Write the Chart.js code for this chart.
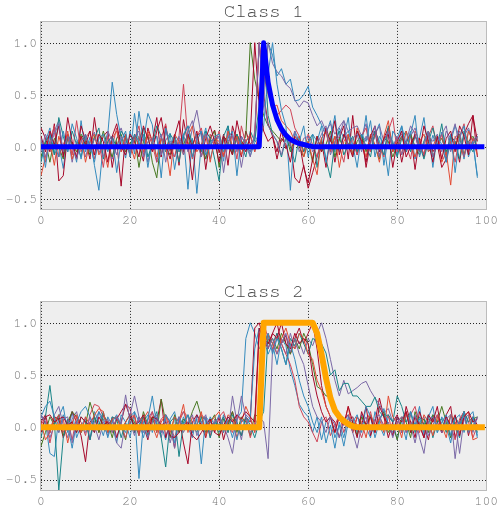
<!DOCTYPE html>
<html>
<head>
<meta charset="utf-8">
<script src="https://cdn.jsdelivr.net/npm/chart.js@4.4.1/dist/chart.umd.min.js"></script>
<style>
  html, body { margin: 0; padding: 0; background: #fff; }
  #wrap { position: relative; width: 501px; height: 509px; overflow: hidden; }
  canvas { position: absolute; left: 0; }
  #c1 { top: 0; }
  #c2 { top: 280px; }
</style>
</head>
<body>
<div id="wrap">
  <canvas id="c1" width="501" height="230"></canvas>
  <canvas id="c2" width="501" height="229"></canvas>
</div>
<script>
// ===== axes / ticks =====
const xTicks = [0, 20, 40, 60, 80, 100];
const yTicks = [-0.5, 0, 0.5, 1.0];
const palette = ['#348ABD', '#A60628', '#7A68A6', '#467821', '#CF4457', '#188487', '#E24A33', '#348ABD', '#A60628', '#7A68A6'];
const monoFont = "'Nimbus Mono PS', 'Nimbus Mono L', FreeMono, 'Courier New', Courier, 'Liberation Mono', monospace";

// ===== Class 1: template (thick blue) =====
const class1Template = [
  0, 0, 0, 0, 0, 0, 0, 0, 0, 0,
  0, 0, 0, 0, 0, 0, 0, 0, 0, 0,
  0, 0, 0, 0, 0, 0, 0, 0, 0, 0,
  0, 0, 0, 0, 0, 0, 0, 0, 0, 0,
  0, 0, 0, 0, 0, 0, 0, 0, 0, 0,
  1.0, 0.62, 0.4, 0.26, 0.17, 0.11, 0.07, 0.045, 0.03, 0.02,
  0.01, 0, 0, 0, 0, 0, 0, 0, 0, 0,
  0, 0, 0, 0, 0, 0, 0, 0, 0, 0,
  0, 0, 0, 0, 0, 0, 0, 0, 0, 0,
  0, 0, 0, 0, 0, 0, 0, 0, 0, 0
];

// ===== Class 1: samples =====
const c1a = [
  -0.12, 0.05, 0.18, -0.08, 0.02, -0.21, 0.11, 0.04, -0.15, 0.25,
  -0.05, 0.09, -0.18, -0.42, 0.03, 0.12, 0.62, 0.31, 0.08, -0.11,
  0.15, -0.07, 0.34, 0.05, 0.32, 0.21, -0.15, -0.08, 0.06, 0.13,
  -0.22, 0.04, 0.1, -0.41, 0.08, -0.45, 0.02, 0.18, -0.12, 0.05,
  0.09, -0.14, 0.2, -0.06, 0.11, -0.03, 0.07, -0.09, 0.04, 0.1,
  0.55, 1.0, 0.88, 0.68, 0.75, 0.6, 0.65, 0.44, 0.45, 0.5,
  0.58, 0.38, 0.3, 0.21, 0.12, 0.25, -0.05, 0.18, 0.08, 0.28,
  -0.1, 0.15, 0.02, 0.3, -0.05, 0.12, 0.22, -0.18, 0.1, 0.05,
  -0.08, 0.2, 0.02, 0.15, -0.12, 0.08, 0.28, -0.05, 0.11, -0.02,
  0.14, -0.15, 0.05, 0.2, 0.09, -0.12, 0.16, 0.04, -0.28
];
const c1b = [
  0.18, 0.08, -0.05, 0.22, -0.33, -0.28, 0.12, 0.02, -0.1, 0.2,
  0.06, -0.12, 0.28, -0.02, 0.1, 0.15, -0.2, 0.05, -0.38, 0.12,
  -0.08, 0.1, 0.02, -0.14, 0.18, 0.05, 0.28, -0.1, 0.2, -0.04,
  0.12, -0.18, 0.26, 0.02, -0.32, 0.1, 0.14, -0.22, 0.08, 0.16,
  -0.06, 0.12, -0.18, 0.2, 0.05, -0.1, 0.15, 0.02, 0.08, 1.0,
  0.5, 0.22, 0.1, -0.05, 0.15, -0.02, 0.05, -0.3, -0.35, -0.18,
  -0.4, -0.25, -0.1, 0.05, -0.2, 0.1, -0.15, 0.08, 0.2, -0.12,
  0.3, -0.08, 0.12, -0.2, 0.05, 0.15, -0.1, 0.08, 0.18, -0.05,
  0.1, -0.15, 0.05, 0.12, -0.22, 0.08, -0.1, 0.15, -0.05, 0.02,
  -0.2, -0.12, 0.1, 0.05, -0.15, 0.12, 0.22, 0.3, -0.1
];
const c1c = [
  -0.05, 0.12, 0.02, 0.15, 0.25, -0.08, 0.1, -0.15, 0.05, 0.08,
  -0.1, 0.05, 0.14, -0.06, 0.02, 0.1, -0.12, 0.08, 0.18, 0.03,
  -0.05, 0.12, 0.0, 0.08, -0.15, 0.06, 0.1, -0.08, 0.15, 0.02,
  -0.1, 0.05, 0.12, -0.05, 0.18, 0.35, 0.1, -0.12, 0.05, 0.08,
  0.02, -0.1, 0.12, -0.05, 0.08, -0.2, 0.05, 0.1, -0.05, 0.08,
  0.4, 1.0, 0.8, 0.72, 0.68, 0.6, 0.56, 0.45, 0.38, 0.44,
  0.42, 0.3, 0.2, 0.25, 0.15, 0.22, 0.12, 0.19, 0.25, 0.15,
  0.18, 0.2, 0.1, 0.22, -0.05, 0.12, 0.2, 0.05, 0.15, -0.02,
  0.08, 0.12, -0.05, 0.1, 0.18, 0.02, -0.08, 0.1, 0.05, 0.12,
  -0.05, 0.15, 0.08, 0.22, -0.02, 0.1, 0.18, 0.05, 0.12
];
const c1d = [
  -0.1, 0.05, -0.15, 0.08, 0.0, -0.12, 0.1, 0.02, -0.05, 0.12,
  0.05, -0.08, 0.1, -0.02, 0.15, 0.0, -0.1, 0.08, 0.12, -0.05,
  0.02, 0.1, -0.2, 0.05, 0.12, -0.15, -0.3, 0.08, 0.0, -0.08,
  0.1, -0.05, 0.02, 0.12, -0.1, 0.05, 0.0, -0.12, 0.08, 0.15,
  -0.2, 0.1, 0.05, -0.08, 0.12, 0.02, 0.1, 1.0, 0.65, 0.45,
  0.3, 0.2, 0.15, 0.1, 0.05, 0.12, -0.05, 0.08, 0.0, -0.1,
  0.05, -0.15, 0.1, -0.05, 0.02, 0.15, -0.1, 0.08, -0.02, 0.1,
  -0.08, 0.05, 0.12, -0.05, 0.1, 0.0, -0.12, 0.08, 0.05, -0.1,
  0.02, 0.1, -0.05, 0.12, 0.0, -0.08, 0.05, 0.15, -0.1, 0.02,
  0.08, -0.05, 0.1, 0.0, 0.12, -0.08, 0.05, 0.1, -0.02
];
const c1e = [
  0.1, -0.15, 0.05, 0.2, -0.1, 0.02, 0.12, -0.08, 0.25, -0.05,
  0.08, 0.15, -0.12, 0.05, -0.2, 0.1, 0.0, 0.18, -0.05, 0.12,
  -0.1, 0.05, 0.2, -0.08, 0.12, 0.02, -0.15, 0.08, 0.22, -0.05,
  -0.1, 0.1, 0.6, 0.05, -0.12, 0.1, 0.18, -0.05, 0.12, 0.0,
  0.15, -0.08, 0.05, 0.1, -0.12, 0.2, 0.02, -0.05, 0.1, 1.0,
  0.7, 0.5, 0.38, 0.3, 0.35, 0.4, 0.36, 0.18, 0.1, -0.05,
  0.12, 0.02, -0.1, 0.08, 0.15, -0.05, 0.1, 0.0, -0.15, 0.12,
  0.05, -0.08, 0.1, 0.18, -0.05, 0.12, 0.02, -0.1, 0.15, 0.28,
  -0.05, 0.1, 0.02, -0.12, 0.15, 0.05, -0.08, 0.1, 0.2, -0.02,
  0.12, -0.1, 0.05, -0.15, 0.1, 0.22, -0.05, 0.08, 0.0
];
const c1f = [
  -0.15, 0.05, 0.12, -0.08, 0.28, 0.1, -0.05, 0.15, 0.02, -0.1,
  0.12, -0.05, 0.08, 0.18, -0.12, 0.05, 0.1, -0.02, 0.15, 0.08,
  -0.08, 0.12, 0.05, 0.18, -0.1, 0.02, 0.2, 0.1, -0.05, 0.12,
  0.05, -0.15, 0.1, 0.2, 0.02, 0.12, -0.05, 0.15, 0.08, -0.12,
  -0.33, 0.1, 0.2, -0.05, 0.12, 0.02, -0.1, 0.15, 0.05, 0.4,
  1.0, 0.3, 0.12, 0.05, -0.1, 0.08, 0.0, -0.15, 0.1, -0.05,
  0.05, 0.12, -0.2, 0.08, -0.12, -0.3, 0.05, 0.15, -0.08, 0.02,
  0.1, -0.05, 0.12, 0.0, -0.1, 0.15, 0.05, -0.08, 0.2, 0.02,
  -0.1, 0.08, 0.15, -0.05, 0.1, 0.02, -0.12, 0.05, 0.18, 0.0,
  0.22, -0.08, 0.1, 0.05, -0.12, 0.15, 0.02, -0.05, 0.1
];
const c1g = [
  -0.28, -0.1, 0.05, -0.18, 0.1, -0.05, 0.15, -0.12, 0.02, 0.1,
  -0.15, 0.05, 0.12, -0.08, 0.0, -0.2, 0.08, 0.15, -0.05, 0.1,
  0.02, -0.12, 0.1, -0.05, 0.15, 0.05, -0.1, 0.08, 0.0, -0.28,
  0.12, 0.05, -0.08, 0.1, 0.2, -0.05, 0.02, 0.12, -0.15, 0.08,
  0.05, -0.1, 0.15, 0.0, 0.1, -0.08, 0.05, 0.12, -0.05, 0.15,
  1.0, 0.55, 0.38, 0.4, 0.25, 0.2, 0.15, 0.05, 0.1, -0.1,
  0.05, -0.12, -0.27, 0.08, 0.15, -0.05, 0.1, -0.2, 0.05, 0.12,
  -0.08, 0.18, 0.05, -0.1, 0.12, 0.02, -0.15, 0.1, 0.25, -0.05,
  0.1, -0.08, 0.15, 0.02, -0.1, 0.05, 0.12, -0.05, 0.0, 0.1,
  -0.15, -0.05, -0.37, 0.1, 0.02, -0.1, 0.15, 0.05, -0.08
];
const c1h = [
  0.05, -0.2, 0.12, 0.02, -0.1, 0.15, -0.05, 0.22, 0.08, -0.12,
  0.1, 0.02, -0.15, 0.08, 0.12, -0.05, 0.1, -0.25, 0.05, 0.15,
  -0.1, 0.32, 0.02, 0.12, -0.2, 0.05, 0.1, -0.3, 0.18, 0.02,
  0.1, -0.05, 0.12, 0.2, -0.1, 0.05, 0.15, -0.08, 0.02, 0.1,
  0.12, -0.05, 0.08, 0.15, -0.28, 0.1, 0.02, -0.05, 0.1, 0.05,
  0.2, 0.7, 1.0, 0.6, 0.35, 0.2, -0.42, 0.15, 0.05, 0.2,
  -0.1, 0.12, 0.05, 0.2, -0.15, 0.08, 0.3, -0.05, 0.1, 0.15,
  0.02, -0.2, 0.12, 0.05, 0.25, -0.1, 0.1, 0.02, -0.28, 0.15,
  0.08, 0.2, -0.05, 0.12, 0.3, -0.1, 0.05, 0.15, -0.2, 0.1,
  0.02, -0.15, 0.12, -0.25, 0.08, 0.2, -0.1, 0.05, -0.3
];
const c1i = [
  0.1, -0.05, 0.15, 0.02, 0.2, -0.1, 0.28, 0.05, -0.12, 0.1,
  0.02, 0.15, -0.08, 0.12, 0.05, -0.15, 0.1, 0.22, 0.0, -0.08,
  0.12, 0.05, -0.1, 0.2, 0.08, -0.05, 0.15, 0.28, 0.02, -0.12,
  0.1, 0.25, -0.05, 0.12, 0.0, 0.15, -0.1, 0.08, 0.2, 0.05,
  -0.15, 0.1, 0.02, -0.08, 0.25, 0.05, -0.05, 0.1, 1.0, 0.4,
  0.15, 0.05, 0.1, -0.12, 0.08, 0.02, -0.15, 0.1, 0.05, -0.2,
  -0.35, -0.12, 0.1, -0.05, 0.18, 0.05, 0.25, -0.08, 0.12, 0.02,
  -0.1, 0.15, 0.05, -0.15, 0.1, 0.2, -0.05, 0.08, 0.12, -0.2,
  0.05, 0.15, -0.1, 0.0, 0.12, -0.05, 0.2, 0.05, -0.15, 0.1,
  -0.12, 0.08, 0.15, -0.05, 0.2, 0.1, -0.08, 0.3, 0.05
];
const c1j = [
  0.08, -0.1, 0.02, 0.12, 0.22, -0.05, 0.1, 0.0, -0.12, 0.05,
  0.12, -0.05, 0.08, 0.02, -0.1, 0.15, 0.05, -0.08, 0.1, 0.02,
  -0.05, 0.1, 0.15, -0.1, 0.05, 0.08, -0.02, 0.12, -0.15, 0.05,
  0.02, 0.1, -0.08, 0.15, 0.25, 0.05, -0.1, 0.12, 0.0, 0.08,
  0.1, -0.25, 0.05, 0.12, -0.05, 0.1, 0.02, -0.1, 0.15, 1.0,
  0.45, 0.2, 0.12, 0.05, -0.08, 0.1, 0.02, 0.15, -0.05, 0.08,
  0.1, -0.05, 0.02, 0.12, 0.2, -0.08, 0.05, 0.1, 0.25, -0.02,
  0.08, 0.12, -0.05, 0.1, 0.02, 0.2, -0.1, 0.05, 0.15, 0.0,
  0.1, -0.08, 0.05, 0.2, 0.12, -0.05, 0.02, 0.15, -0.1, 0.05,
  0.12, 0.2, -0.05, 0.08, 0.15, -0.1, 0.05, 0.02, 0.1
];

// ===== Class 2: template (thick orange) =====
const class2Template = [
  0, 0, 0, 0, 0, 0, 0, 0, 0, 0,
  0, 0, 0, 0, 0, 0, 0, 0, 0, 0,
  0, 0, 0, 0, 0, 0, 0, 0, 0, 0,
  0, 0, 0, 0, 0, 0, 0, 0, 0, 0,
  0, 0, 0, 0, 0, 0, 0, 0, 0, 0,
  1.0, 1.0, 1.0, 1.0, 1.0, 1.0, 1.0, 1.0, 1.0, 1.0,
  1.0, 1.0, 0.9, 0.7, 0.47, 0.28, 0.16, 0.1, 0.06, 0.03,
  0.01, 0, 0, 0, 0, 0, 0, 0, 0, 0,
  0, 0, 0, 0, 0, 0, 0, 0, 0, 0,
  0, 0, 0, 0, 0, 0, 0, 0, 0, 0
];

// ===== Class 2: samples =====
const c2a = [
  0.12, 0.05, -0.25, -0.28, 0.1, 0.2, -0.05, 0.15, -0.1, 0.02,
  0.08, -0.12, 0.15, 0.05, -0.08, 0.1, 0.02, -0.15, 0.12, 0.05,
  -0.1, 0.15, -0.49, 0.05, 0.12, -0.05, 0.1, 0.02, -0.12, 0.08,
  0.15, -0.05, 0.1, 0.0, -0.1, 0.12, 0.05, -0.08, 0.1, 0.02,
  -0.05, 0.12, 0.05, -0.1, 0.08, 0.15, 0.85, 1.0, 0.9, 0.75,
  0.85, 0.7, 0.8, 0.6, 0.85, 0.78, 0.55, 0.4, 0.22, 0.15,
  0.1, -0.05, 0.1, -0.12, 0.05, 0.1, -0.1, 0.02, -0.18, 0.05,
  0.1, -0.05, 0.12, 0.0, -0.1, 0.15, 0.02, -0.08, 0.1, 0.05,
  -0.12, 0.08, 0.15, -0.05, 0.02, 0.2, -0.1, 0.05, 0.12, -0.05,
  0.1, 0.02, -0.15, 0.08, 0.12, -0.05, 0.1, 0.15, -0.08
];
const c2b = [
  0.05, 0.12, -0.05, 0.1, 0.08, -0.1, 0.02, 0.15, 0.05, -0.08,
  -0.33, 0.05, 0.1, -0.05, 0.12, 0.02, 0.08, -0.1, 0.05, 0.22,
  0.18, -0.05, 0.1, 0.02, -0.12, 0.08, 0.05, 0.27, -0.1, 0.05,
  -0.2, 0.1, -0.15, -0.35, 0.05, 0.12, 0.02, -0.1, 0.08, -0.05,
  0.1, -0.12, 0.05, 0.15, 0.0, -0.08, 0.1, 0.05, 0.95, 1.0,
  0.85, 0.75, 0.9, 1.0, 0.8, 0.88, 0.7, 0.85, 0.95, 0.8,
  0.9, 1.0, 0.75, 0.4, 0.2, 0.1, 0.05, -0.1, 0.08, 0.12,
  -0.05, 0.1, 0.02, 0.2, -0.08, 0.05, 0.28, 0.1, -0.1, 0.05,
  0.12, -0.05, 0.2, 0.05, -0.1, 0.15, 0.02, -0.12, 0.1, 0.05,
  -0.05, 0.12, 0.2, -0.1, 0.05, 0.15, -0.08, 0.1, 0.02
];
const c2c = [
  0.1, 0.05, -0.05, 0.12, 0.2, 0.02, -0.1, 0.08, 0.15, -0.05,
  0.1, -0.12, 0.05, 0.15, 0.02, -0.08, 0.1, -0.15, -0.2, 0.05,
  0.12, 0.3, 0.1, -0.05, 0.08, 0.15, 0.02, -0.1, 0.12, 0.05,
  -0.2, 0.08, 0.15, 0.02, -0.05, 0.1, 0.05, 0.12, -0.1, 0.08,
  0.02, 0.1, -0.05, 0.3, 0.05, -0.12, 0.12, 0.08, -0.05, 0.1,
  0.05, -0.3, 0.75, 0.85, 0.8, 0.7, 0.9, 0.75, 0.82, 0.7,
  0.85, 0.78, 0.9, 1.0, 0.85, 0.65, 0.45, 0.3, 0.45, 0.32,
  0.35, 0.38, 0.42, 0.44, 0.35, 0.28, 0.22, 0.14, 0.18, 0.05,
  0.1, -0.05, 0.12, 0.02, -0.15, 0.05, 0.1, -0.08, 0.02, 0.12,
  -0.05, 0.1, -0.1, 0.05, -0.25, 0.08, 0.12, -0.05, 0.1
];
const c2d = [
  -0.18, -0.05, 0.1, 0.02, 0.12, -0.08, 0.05, 0.15, 0.1, -0.05,
  0.02, 0.24, 0.1, -0.05, 0.12, 0.05, -0.1, 0.08, 0.02, -0.12,
  0.1, 0.05, -0.08, 0.15, 0.02, 0.1, -0.05, 0.27, 0.05, -0.1,
  0.12, -0.05, 0.08, 0.02, 0.15, 0.25, 0.1, -0.05, 0.05, 0.12,
  -0.1, 0.08, 0.02, 0.15, -0.05, 0.1, 0.05, -0.08, 0.12, 0.1,
  0.95, 0.8, 0.85, 0.75, 0.9, 0.8, 0.7, 0.85, 0.75, 0.9,
  0.8, 0.6, 0.39, 0.36, 0.3, 0.3, 0.2, 0.12, 0.08, 0.02,
  0.05, -0.08, 0.1, 0.02, 0.12, -0.05, 0.08, 0.15, -0.05, 0.02,
  -0.12, 0.1, 0.05, -0.1, 0.15, 0.02, 0.08, -0.05, 0.12, 0.05,
  0.2, 0.05, -0.1, 0.1, 0.02, 0.15, -0.05, 0.08, 0.1
];
const c2e = [
  0.02, 0.1, -0.15, 0.05, 0.12, -0.05, 0.08, -0.12, 0.1, 0.05,
  -0.08, 0.12, 0.22, 0.2, 0.1, 0.05, -0.05, 0.1, 0.02, -0.1,
  0.05, 0.12, -0.08, 0.1, 0.02, 0.15, -0.05, 0.08, 0.12, 0.02,
  -0.1, 0.05, 0.15, 0.1, -0.05, 0.02, 0.12, 0.08, -0.08, 0.05,
  0.1, 0.15, 0.02, -0.05, 0.12, 0.05, 0.08, -0.1, 0.05, 0.92,
  1.0, 0.85, 0.75, 0.9, 0.8, 0.7, 0.6, 0.45, 0.2, 0.1,
  0.05, -0.05, -0.14, 0.05, 0.1, -0.08, 0.02, 0.12, -0.05, 0.08,
  0.1, 0.02, -0.1, 0.05, 0.15, -0.05, 0.1, 0.02, 0.12, -0.08,
  0.05, 0.1, -0.05, 0.12, 0.2, 0.02, -0.1, 0.08, 0.05, 0.12,
  -0.05, 0.1, 0.02, -0.12, 0.08, 0.15, 0.05, -0.1, 0.02
];
const c2f = [
  -0.1, 0.1, 0.4, 0.05, -0.6, -0.1, 0.08, 0.02, -0.05, 0.1,
  0.05, -0.12, 0.1, 0.02, 0.15, -0.05, 0.1, 0.08, -0.1, 0.05,
  0.12, -0.05, 0.02, 0.1, -0.08, 0.05, 0.15, -0.1, -0.38, 0.05,
  0.1, -0.28, 0.05, 0.12, 0.02, -0.05, 0.1, 0.08, -0.1, 0.05,
  0.02, 0.1, -0.05, 0.12, 0.05, -0.08, 0.1, 0.02, -0.1, 0.05,
  0.15, 0.88, 0.8, 0.9, 0.75, 0.6, 0.85, 0.78, 0.9, 0.8,
  0.7, 0.85, 0.83, 0.8, 0.71, 0.5, 0.55, 0.35, 0.42, 0.42,
  0.3, 0.3, 0.25, 0.2, 0.2, 0.29, 0.15, 0.1, 0.12, 0.05,
  0.3, 0.2, 0.05, 0.15, -0.05, 0.1, 0.02, 0.12, -0.1, 0.05,
  0.08, -0.05, 0.12, 0.02, -0.1, 0.15, 0.05, 0.1, -0.05
];
const c2g = [
  0.05, -0.12, -0.05, 0.1, 0.02, 0.08, -0.15, 0.05, 0.12, -0.05,
  0.1, 0.02, 0.12, 0.18, 0.15, -0.05, 0.08, 0.1, -0.02, 0.05,
  0.12, 0.1, -0.05, 0.08, 0.15, 0.02, -0.1, 0.05, 0.12, -0.05,
  0.1, 0.05, 0.22, -0.05, 0.1, 0.02, 0.15, -0.08, 0.05, 0.1,
  0.15, -0.05, 0.12, 0.08, -0.1, 0.05, 0.2, 0.1, -0.05, 0.9,
  0.75, 0.9, 0.8, 0.7, 0.85, 0.95, 0.8, 0.75, 0.9, 0.85,
  0.7, 0.65, 0.45, 0.35, 0.2, 0.1, -0.05, 0.1, 0.02, 0.2,
  -0.05, 0.1, 0.05, -0.1, 0.12, 0.02, 0.08, -0.05, 0.3, 0.1,
  0.05, -0.1, 0.15, 0.02, 0.1, -0.05, 0.12, 0.05, -0.08, 0.1,
  0.02, -0.1, 0.12, 0.05, -0.05, 0.1, 0.15, -0.12, -0.1
];
const c2h = [
  0.1, 0.2, 0.25, 0.1, -0.05, 0.12, 0.02, -0.2, 0.05, 0.15,
  0.2, 0.1, -0.05, 0.15, 0.08, -0.1, 0.05, 0.12, 0.02, -0.05,
  0.1, 0.15, 0.05, -0.1, 0.08, 0.3, 0.02, -0.05, 0.12, 0.05,
  -0.15, 0.1, 0.02, 0.12, -0.05, 0.08, -0.35, 0.1, 0.05, 0.02,
  0.12, -0.05, 0.1, 0.05, -0.12, 0.08, 0.02, 0.1, 0.75, 0.95,
  0.8, 0.9, 0.7, 0.85, 0.75, 0.6, 0.8, 0.65, 0.45, 0.3,
  0.2, 0.05, -0.05, 0.1, -0.15, 0.02, -0.2, 0.05, -0.1, 0.1,
  0.05, 0.12, -0.05, 0.2, 0.1, -0.1, 0.05, 0.18, 0.02, -0.05,
  0.1, 0.05, -0.12, 0.15, 0.02, 0.08, -0.05, 0.1, 0.2, -0.05,
  0.05, 0.12, -0.08, 0.1, 0.02, 0.15, -0.05, 0.1, -0.1
];
const c2i = [
  -0.05, 0.1, 0.12, 0.05, 0.08, 0.1, 0.02, 0.05, -0.05, 0.1,
  0.05, 0.02, -0.05, 0.1, 0.02, 0.05, -0.02, 0.08, 0.15, 0.22,
  0.1, 0.02, 0.05, 0.12, -0.05, 0.1, 0.08, 0.02, 0.05, -0.08,
  -0.1, -0.05, 0.02, 0.05, -0.08, -0.12, -0.05, 0.02, 0.08, -0.05,
  -0.08, 0.02, 0.1, 0.05, 0.12, 0.08, 0.15, 0.1, 0.05, 0.95,
  0.85, 0.8, 0.9, 0.85, 1.0, 0.8, 0.75, 0.9, 0.8, 0.85,
  0.8, 0.5, 0.3, 0.15, 0.05, 0.1, -0.05, 0.12, 0.02, 0.2,
  0.05, -0.1, 0.15, 0.02, 0.1, -0.05, 0.2, 0.1, 0.02, -0.08,
  0.1, 0.05, 0.15, -0.05, 0.1, 0.02, -0.1, 0.12, 0.05, 0.2,
  -0.05, 0.1, 0.02, 0.12, -0.08, 0.1, 0.15, 0.05, 0.08
];
const c2j = [
  0.12, 0.05, -0.1, 0.02, -0.05, 0.08, 0.1, -0.15, 0.05, 0.02,
  -0.05, 0.1, 0.02, -0.12, 0.05, 0.08, -0.05, 0.1, 0.02, 0.31,
  0.05, -0.08, 0.1, 0.02, -0.1, 0.05, 0.12, -0.05, 0.08, -0.15,
  0.02, 0.1, -0.05, 0.05, 0.12, -0.08, 0.02, 0.1, -0.05, 0.05,
  0.1, 0.02, -0.1, -0.25, 0.05, 0.3, 0.1, -0.05, 0.02, 0.1,
  0.9, 0.75, 0.85, 0.7, 0.8, 0.9, 0.72, 0.85, 0.7, 0.6,
  0.4, 0.2, 0.1, 0.05, -0.05, 0.1, 0.02, -0.1, 0.05, 0.12,
  -0.05, -0.2, 0.02, 0.1, -0.05, 0.08, 0.12, -0.02, 0.05, -0.1,
  0.05, 0.1, -0.05, 0.02, 0.12, -0.1, -0.25, 0.05, 0.1, 0.02,
  -0.05, 0.08, 0.12, -0.3, 0.05, 0.1, -0.05, 0.02, 0.1
];

const class1Samples = [c1a, c1b, c1c, c1d, c1e, c1f, c1g, c1h, c1i, c1j];
const class2Samples = [c2a, c2b, c2c, c2d, c2e, c2f, c2g, c2h, c2i, c2j];

// ===== axes background, dotted grid, frame =====
const axesDecor = {
  id: 'axesDecor',
  beforeDatasetsDraw(chart) {
    const { ctx, chartArea: a, scales: { x, y } } = chart;
    ctx.save();
    ctx.fillStyle = '#eeeeee';
    ctx.fillRect(a.left, a.top, a.right - a.left, a.bottom - a.top);
    ctx.strokeStyle = 'rgba(0,0,0,0.85)';
    ctx.lineWidth = 1;
    ctx.setLineDash([1, 2]);
    xTicks.forEach(v => {
      const px = Math.round(x.getPixelForValue(v)) + 0.5;
      ctx.beginPath(); ctx.moveTo(px, a.top); ctx.lineTo(px, a.bottom); ctx.stroke();
    });
    yTicks.forEach(v => {
      const py = Math.round(y.getPixelForValue(v)) + 0.5;
      ctx.beginPath(); ctx.moveTo(a.left, py); ctx.lineTo(a.right, py); ctx.stroke();
    });
    ctx.restore();
  },
  afterDatasetsDraw(chart) {
    const { ctx, chartArea: a } = chart;
    ctx.save();
    ctx.strokeStyle = '#bcbcbc';
    ctx.lineWidth = 1;
    ctx.strokeRect(Math.round(a.left) - 0.5, Math.round(a.top) - 0.5,
      Math.round(a.right - a.left) + 1, Math.round(a.bottom - a.top) + 1);
    ctx.restore();
  }
};

const pts = arr => arr.map((v, i) => ({ x: i, y: v }));

function makeChart(canvasId, title, template, templateColor, templateWidth, samples, xAxisHeight) {
  // first dataset is drawn on top in Chart.js, so the last sample goes first
  const datasets = [{
    data: pts(template),
    borderColor: templateColor,
    borderWidth: templateWidth,
    borderCapStyle: 'square',
    borderJoinStyle: 'round',
    pointRadius: 0,
    tension: 0,
    clip: 0
  }];
  for (let i = samples.length - 1; i >= 0; i--) {
    datasets.push({
      data: pts(samples[i]),
      borderColor: palette[i],
      borderWidth: 1,
      pointRadius: 0,
      tension: 0,
      clip: 0
    });
  }

  return new Chart(document.getElementById(canvasId), {
    type: 'line',
    data: { datasets },
    options: {
      responsive: false,
      animation: false,
      layout: { padding: { left: 0, right: 13, top: 0, bottom: 0 } },
      plugins: {
        legend: { display: false },
        tooltip: { enabled: false },
        title: {
          display: true,
          text: title,
          fullSize: false,
          color: '#444',
          font: { family: monoFont, size: 19, weight: 'normal', lineHeight: 1.1 },
          padding: { top: 1, bottom: 0 }
        }
      },
      scales: {
        x: {
          type: 'linear',
          min: 0,
          max: 100,
          afterBuildTicks: s => { s.ticks = xTicks.map(v => ({ value: v })); },
          afterFit: s => { s.height = xAxisHeight; },
          grid: { display: false, drawTicks: false },
          border: { display: false },
          ticks: {
            padding: 3,
            maxRotation: 0,
            autoSkip: false,
            color: '#777',
            font: { family: monoFont, size: 13 },
            callback: v => String(v)
          }
        },
        y: {
          type: 'linear',
          min: -0.6,
          max: 1.2,
          afterBuildTicks: s => { s.ticks = yTicks.map(v => ({ value: v })); },
          afterFit: s => { s.width = 41; },
          grid: { display: false, drawTicks: false },
          border: { display: false },
          ticks: {
            padding: 4,
            color: '#777',
            font: { family: monoFont, size: 13 },
            callback: v => v.toFixed(1).replace('-', '\u2212')
          }
        }
      }
    },
    plugins: [axesDecor]
  });
}

makeChart('c1', 'Class 1', class1Template, '#0000FF', 5, class1Samples, 21);
makeChart('c2', 'Class 2', class2Template, '#FFA500', 6, class2Samples, 19);
</script>
</body>
</html>
